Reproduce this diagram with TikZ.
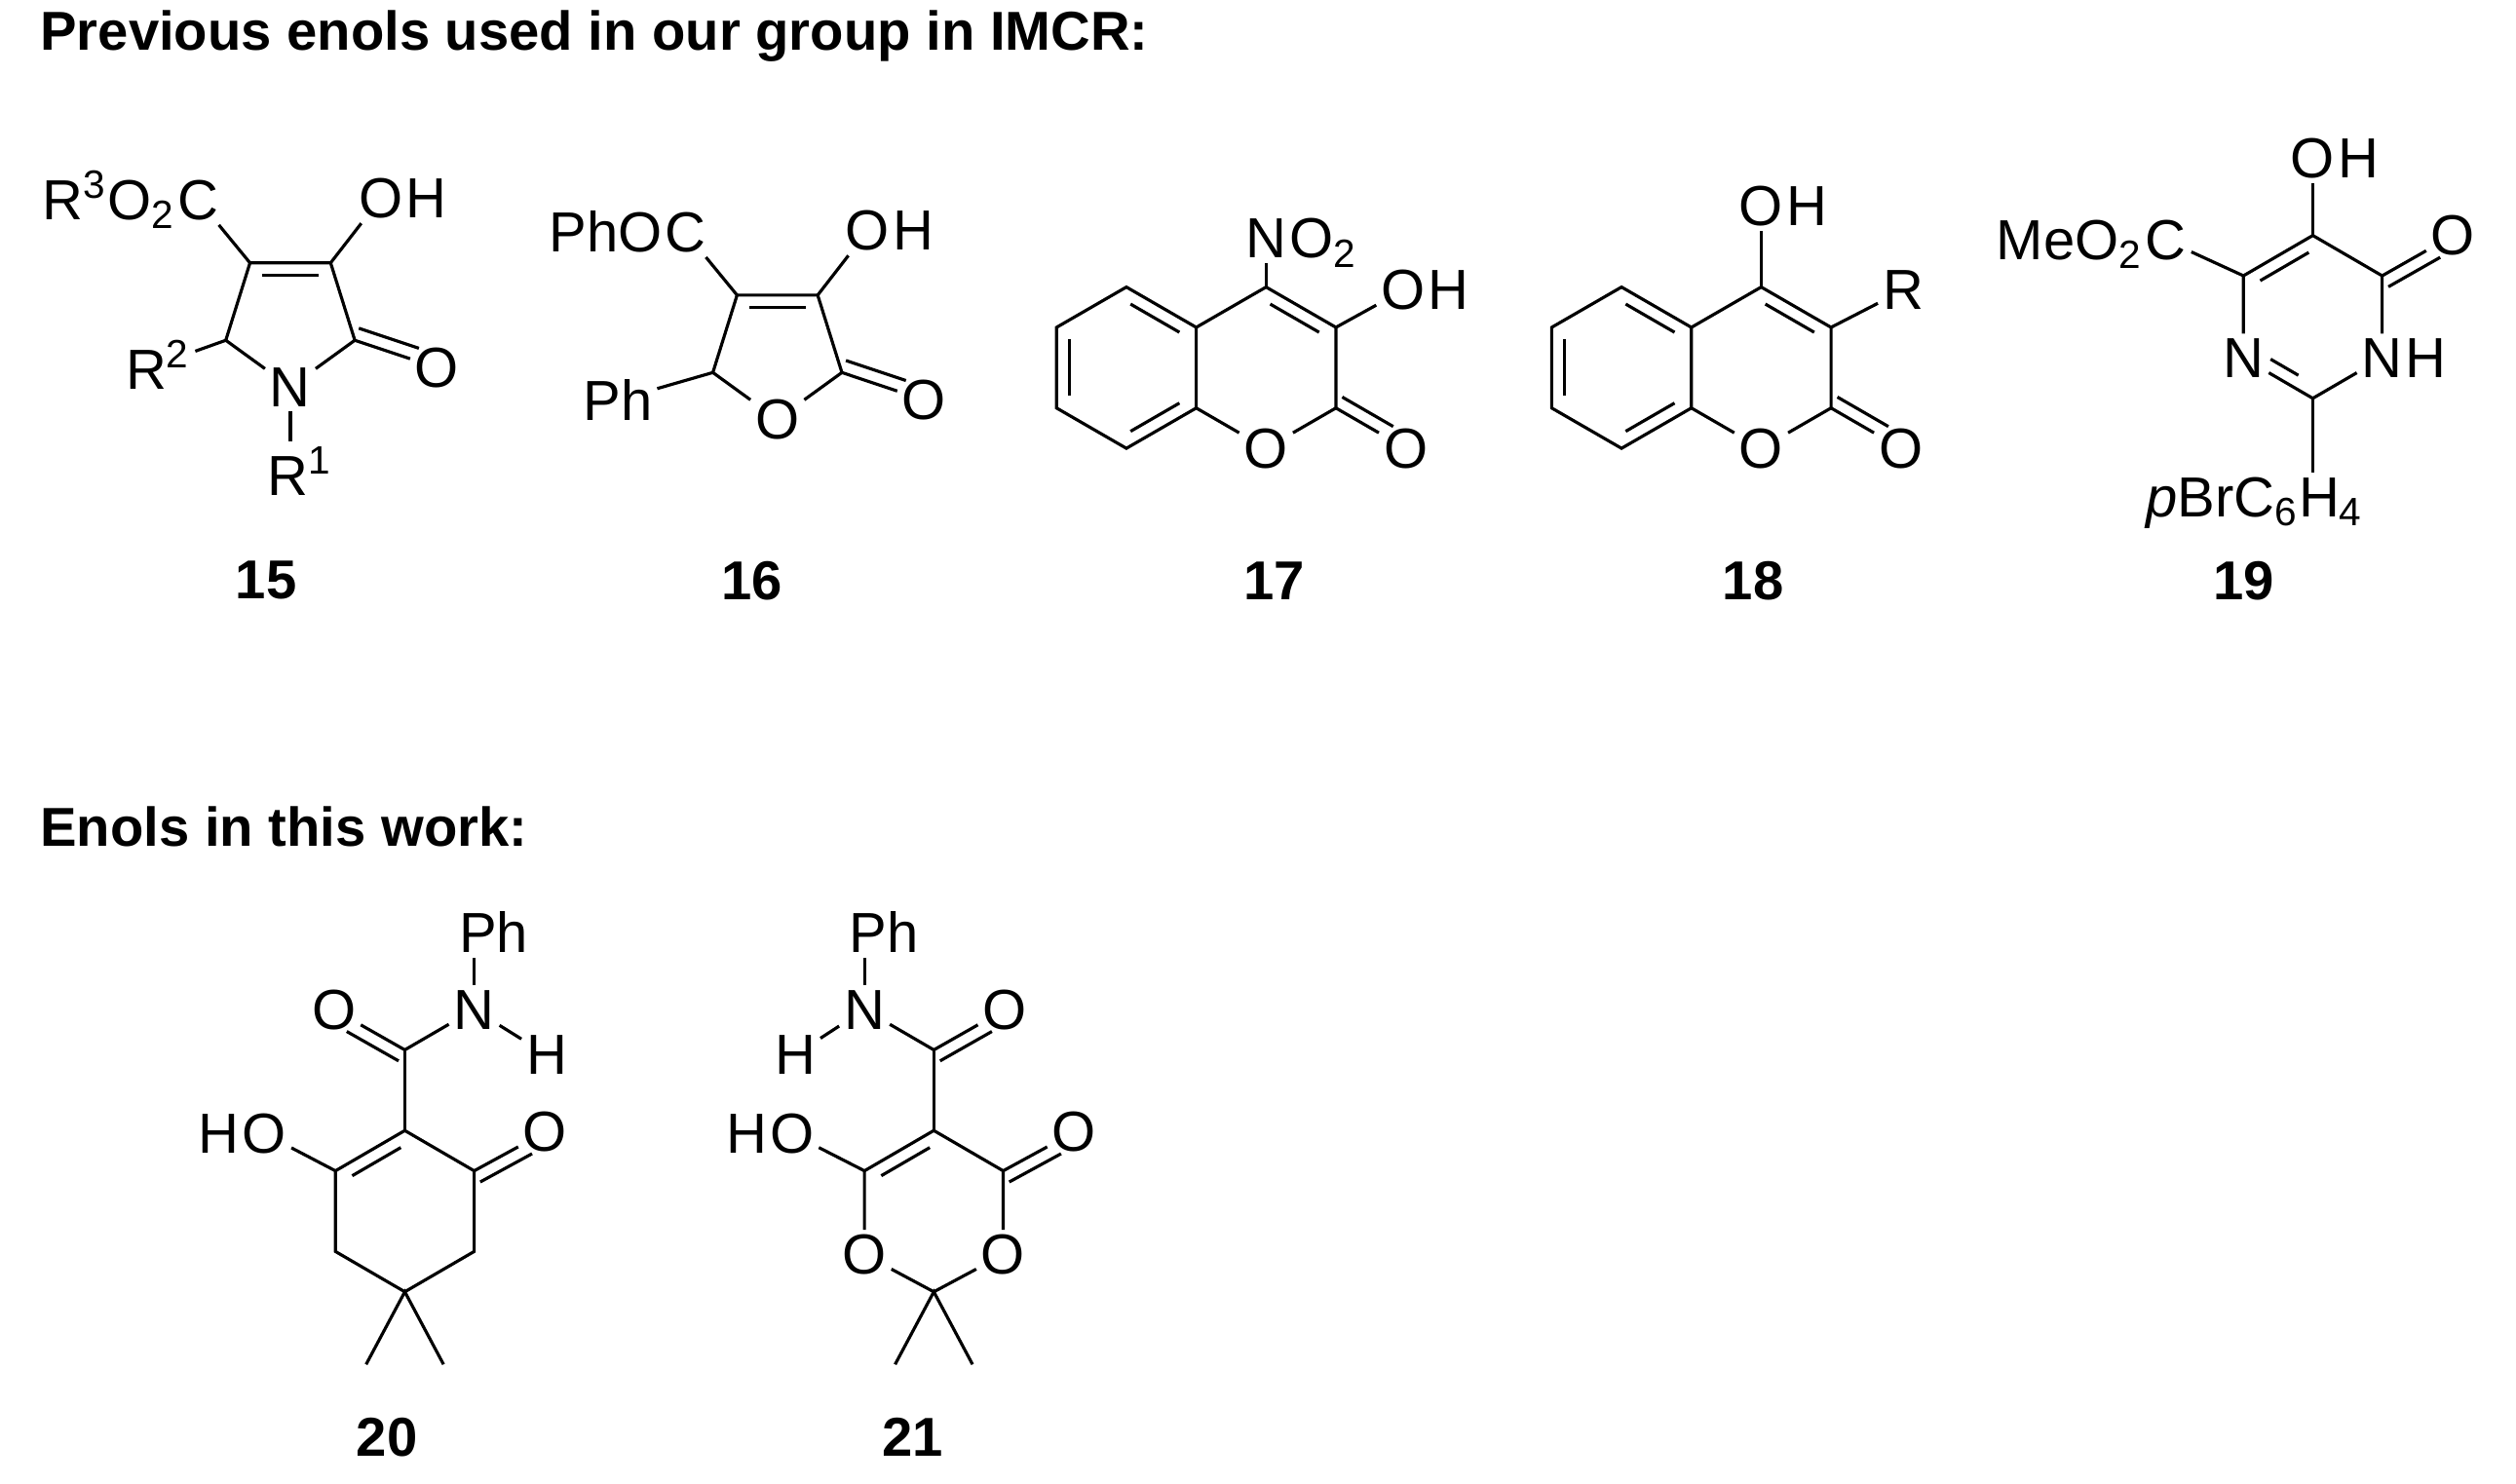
\documentclass[tikz,border=0pt]{standalone}
\usepackage{fontspec}
\setmainfont{Liberation Sans}
\usetikzlibrary{calc}
\newcommand\inb[4][0.15]{\coordinate (tmpv) at ($(#2)!0.13cm!#4:(#3)$);
  \draw ($(#2)!#1!(#3)+(tmpv)-(#2)$) -- ($(#3)!#1!(#2)+(tmpv)-(#2)$);}
\newcommand\exo[3]{\draw (#1) -- (#2); \coordinate (tmpv) at ($(#1)!0.13cm!#3:(#2)$);
  \draw (tmpv) -- ($(#2)!0.27!(#1)+(tmpv)-(#1)$);}
\newcommand\coum[3]{%
\begin{scope}[shift={(#2,#3)}]
\coordinate (#1p1) at (0,-50); \coordinate (#1p2) at (43.3,-25); \coordinate (#1p3) at (43.3,25);
\node[atom] (#1o) at (0,50) {O};
\coordinate (#1p5) at (-43.3,25); \coordinate (#1p6) at (-43.3,-25);
\coordinate (#1b1) at (-86.6,-50); \coordinate (#1b2) at (-129.9,-25); \coordinate (#1b3) at (-129.9,25); \coordinate (#1b4) at (-86.6,50);
\node[atom] (#1oc) at (86.6,50) {O};
\end{scope}
\draw (#1p1)--(#1p2)--(#1p3)--(#1o)--(#1p5)--(#1p6)--(#1p1);
\draw (#1p6)--(#1b1)--(#1b2)--(#1b3)--(#1b4)--(#1p5);
\inb{#1p1}{#1p2}{-90}\inb{#1b1}{#1p6}{-90}\inb{#1b3}{#1b2}{-90}\inb{#1p5}{#1b4}{-90}
\exo{#1p3}{#1oc}{90}}
\begin{document}
\begin{tikzpicture}[x=0.016551cm,y=-0.016551cm,line width=0.9pt,
  atom/.style={font=\fontsize{16.5}{17}\selectfont,inner sep=1pt},
  app/.style={font=\fontsize{16.5}{17}\selectfont,inner sep=0pt},
  aw/.style={app,anchor=base west,xshift=-1pt},
  ae/.style={app,anchor=base east,xshift=1pt},
  cmpd/.style={font=\bfseries\fontsize{16}{16}\selectfont},
  head/.style={font=\bfseries\fontsize{16}{16}\selectfont,anchor=base west}]
\useasboundingbox (0,0) rectangle (1560,919.6);
\node[head] (h1) at (17,31) {Previous enols used in our group in IMCR:};
\node[head] (h2) at (17,525) {Enols in this work:};
% ---- 15
\coordinate (a4) at (155,163); \coordinate (a3) at (205,163); \coordinate (a2) at (220,211);
\node[atom] (an) at (180,240) {N}; \coordinate (a5) at (140,211);
\node[atom] (aoh) at (236,123) {O}; \node[aw] (aohh) at (aoh.base east) {H};
\node[atom] (ac) at (123,124) {C}; \node[ae] (acr) at (ac.base west) {R\textsuperscript{3}O\textsubscript{2}};
\node[atom] (ar2) at (98,226) {R\textsuperscript{2}};
\node[atom] (ar1) at (186,292) {R\textsuperscript{1}};
\node[atom] (ao) at (271,228) {O};
\draw (a4)--(a3)--(a2)--(an)--(a5)--(a4);
\inb{a4}{a3}{-90}
\draw (a3)--(aoh); \draw (a4)--(ac); \draw (a5)--(ar2); \draw (an)--(an|-ar1.north);
\exo{a2}{ao}{90}
\node[cmpd] (l15) at (165,360) {15};
% ---- 16
\coordinate (b4) at (457,183); \coordinate (b3) at (507,183); \coordinate (b2) at (522,231);
\node[atom] (bo1) at (482,260) {O}; \coordinate (b5) at (442,231);
\node[atom] (boh) at (538,143) {O}; \node[aw] (bohh) at (boh.base east) {H};
\node[atom] (bc) at (425,144) {C}; \node[ae] (bcr) at (bc.base west) {PhO};
\node[atom] (bph) at (383,248) {Ph};
\node[atom] (bo) at (573,248) {O};
\draw (b4)--(b3)--(b2)--(bo1)--(b5)--(b4);
\inb{b4}{b3}{-90}
\draw (b3)--(boh); \draw (b4)--(bc); \draw (b5)--(bph);
\exo{b2}{bo}{90}
\node[cmpd] (l16) at (466,360) {16};
% ---- 17
\coum{c}{785}{228}
\node[atom] (cn) at (785,148) {N}; \node[aw] (cno) at (cn.base east) {O\textsubscript{2}};
\draw (cp1)--(cn);
\node[atom] (coh) at (870,180) {O}; \node[aw] (cohh) at (coh.base east) {H};
\draw (cp2)--(coh);
\node[cmpd] (l17) at (790,360) {17};
% ---- 18
\coum{d}{1092}{228}
\node[atom] (doh) at (1092,128) {O}; \node[aw] (dohh) at (doh.base east) {H};
\draw (dp1)--(doh);
\node[atom] (dr) at (1180,180) {R};
\draw (dp2)--(dr);
\node[cmpd] (l18) at (1087,360) {18};
% ---- 19
\coordinate (e5) at (1434,146); \coordinate (e4) at (1391,171); \node[atom] (en3) at (1391,222) {N};
\coordinate (e2) at (1434,247); \node[atom] (en1) at (1477,222) {N}; \node[aw] (en1h) at (en1.base east) {H};
\coordinate (e6) at (1477,171);
\draw (e5)--(e4)--(en3)--(e2)--(en1)--(e6)--(e5);
\inb{e4}{e5}{-90}
\inb[0.3]{e2}{en3}{-90}
\node[atom] (eo) at (1521,146) {O};
\exo{e6}{eo}{-90}
\node[atom] (eoh) at (1434,98) {O}; \node[aw] (eohh) at (eoh.base east) {H};
\draw (e5)--(eoh);
\node[atom] (ec) at (1343,149) {C}; \node[ae] (ecr) at (ec.base west) {MeO\textsubscript{2}};
\draw (e4)--(ec);
\node[atom] (ear) at (1398,312) {\textit{p}BrC\textsubscript{6}H\textsubscript{4}};
\draw (e2)--(e2|-ear.north);
\node[cmpd] (l19) at (1391,360) {19};
% ---- 20
\coordinate (f1) at (251,701); \coordinate (f2) at (208,726); \coordinate (f3) at (208,776);
\coordinate (f4) at (251,801); \coordinate (f5) at (294,776); \coordinate (f6) at (294,726);
\draw (f1)--(f2)--(f3)--(f4)--(f5)--(f6)--(f1);
\inb{f2}{f1}{-90}
\node[atom] (fho) at (164,703) {O}; \node[ae] (fhoh) at (fho.base west) {H};
\draw (f2)--(fho);
\node[atom] (fo) at (338,702) {O}; \exo{f6}{fo}{-90}
\coordinate (fa) at (251,651); \draw (f1)--(fa);
\node[atom] (fao) at (207,626) {O}; \exo{fa}{fao}{90}
\node[atom] (fn) at (294,626) {N}; \draw (fa)--(fn);
\node[atom] (fph) at (306,578) {Ph}; \draw (fn)--(fn|-fph.south);
\node[atom] (fh) at (339,654) {H}; \draw (fn)--(fh);
\coordinate (fm1) at (227,846); \coordinate (fm2) at (275,846);
\draw (fm1)--(f4)--(fm2);
\node[cmpd] (l20) at (240,891) {20};
% ---- 21
\coordinate (g1) at (579,701); \coordinate (g2) at (536,726); \node[atom] (g3) at (536,778) {O};
\coordinate (g4) at (579,801); \node[atom] (g5) at (622,778) {O}; \coordinate (g6) at (622,726);
\draw (g1)--(g2)--(g3)--(g4)--(g5)--(g6)--(g1);
\inb{g2}{g1}{-90}
\node[atom] (gho) at (491,703) {O}; \node[ae] (ghoh) at (gho.base west) {H};
\draw (g2)--(gho);
\node[atom] (go) at (666,702) {O}; \exo{g6}{go}{-90}
\coordinate (ga) at (579,651); \draw (g1)--(ga);
\node[atom] (gao) at (623,626) {O}; \exo{ga}{gao}{-90}
\node[atom] (gn) at (536,626) {N}; \draw (ga)--(gn);
\node[atom] (gph) at (548,578) {Ph}; \draw (gn)--(gn|-gph.south);
\node[atom] (gh) at (493,654) {H}; \draw (gn)--(gh);
\coordinate (gm1) at (555,846); \coordinate (gm2) at (603,846);
\draw (gm1)--(g4)--(gm2);
\node[cmpd] (l21) at (566,891) {21};
\end{tikzpicture}
\end{document}
